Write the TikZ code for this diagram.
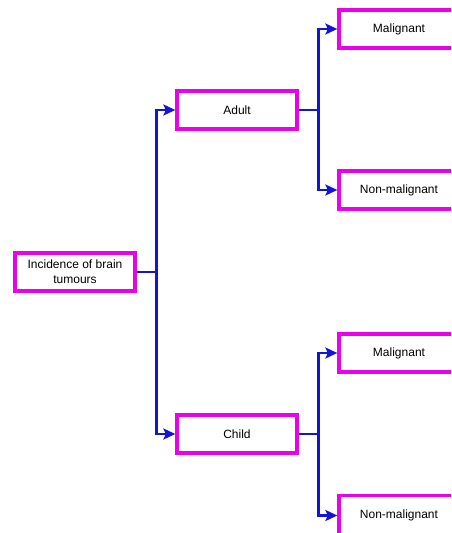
\documentclass[tikz,border=0pt]{standalone}
\usepackage{fontspec}
\setmainfont{Liberation Sans}
\usetikzlibrary{arrows.meta}
\definecolor{boxpink}{RGB}{235,0,235}
\definecolor{linkblue}{RGB}{20,20,215}
\tikzset{
  box/.style={draw=boxpink, line width=3.3pt, fill=white, align=center,
    minimum width=120pt, minimum height=38pt, inner sep=2pt,
    font=\fontsize{12}{15}\selectfont},
  link/.style={draw=linkblue, line width=2.5pt,
    -{Stealth[length=12pt,width=11pt,inset=2.5pt]}},
}
\begin{document}
\begin{tikzpicture}[x=1pt,y=-1pt]
\useasboundingbox (0,0) rectangle (451,533);
\clip (0,0) rectangle (451,533);
\node[box] (root) at (75,272) {Incidence of brain\\tumours};
\node[box] (adult) at (237,110) {Adult};
\node[box] (child) at (237,434) {Child};
\node[box] (amal) at (399,29) {Malignant};
\node[box] (anon) at (399,190) {Non-malignant};
\node[box] (cmal) at (399,353) {Malignant};
\node[box, minimum height=40pt] (cnon) at (399,515.5) {Non-malignant};
\draw[link] (root.east) -- ++(20,0) |- (adult.west);
\draw[link] (root.east) -- ++(20,0) |- (child.west);
\draw[link] (adult.east) -- ++(20,0) |- (amal.west);
\draw[link] (adult.east) -- ++(20,0) |- (anon.west);
\draw[link] (child.east) -- ++(20,0) |- (cmal.west);
\draw[link] (child.east) -- ++(20,0) |- (cnon.west);
\end{tikzpicture}
\end{document}
